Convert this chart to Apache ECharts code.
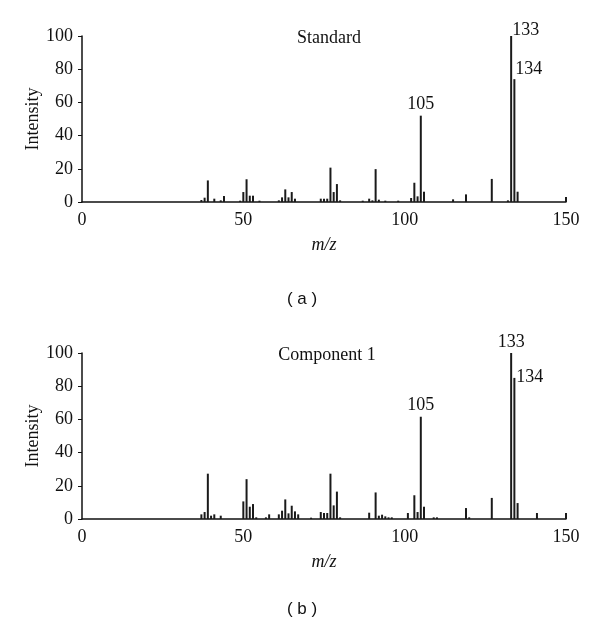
<!DOCTYPE html>
<html>
<head>
<meta charset="utf-8">
<script src="https://cdn.jsdelivr.net/npm/echarts@6/dist/echarts.min.js"></script>
<style>html,body{margin:0;padding:0;background:#fff}#c{width:600px;height:631px}</style>
</head>
<body>
<div id="c"></div>
<script>
// Standard spectrum (m/z, intensity)
var stdMz  = [37,38,39,41,43,44,49,50,51,52,53,55,61,62,63,64,65,66,74,75,76,77,78,79,80,87,89,90,91,92,94,98,102,103,104,105,106,115,119,127,132,133,134,135,150];
var stdInt = [1.2,2.6,13,2,1,3.6,0.8,6,13.7,3.8,3.8,0.8,1,2.8,7.6,2.8,6,2,2,2,2,20.7,6,10.8,1,0.8,2,1,19.8,1.4,0.8,0.8,2.4,11.6,3.4,52,6.2,1.6,4.6,13.9,1,100,74,6.2,3];
// Component 1 spectrum
var cmpMz  = [37,38,39,40,41,43,50,51,52,53,54,57,58,61,62,63,64,65,66,67,71,74,75,76,77,78,79,80,89,91,92,93,94,95,96,101,103,104,105,106,109,110,119,120,127,133,134,135,141,150];
var cmpInt = [2.8,4.2,27.3,2,2.8,2,10.6,24,7.4,9,1,1,2.8,2.8,5,11.8,3.4,8,4.6,2.8,0.8,4.2,3.6,3.6,27.3,8.2,16.5,1,3.8,16,2,2.6,1.6,1,1,3.6,14.3,4.2,61.6,7.4,1,1,6.6,1,12.7,100,85,9.6,3.6,3.6];
var xTicks = [0,50,100,150];
var yTicks = [0,20,40,60,80,100];
var titles = ['Standard','Component 1'];
var panelLabels = ['( a )','( b )'];

var serif = '"Liberation Serif", "DejaVu Serif", serif';
var labelStyles = {
  0: {105: {position:'top', distance:2}, 133: {position:[2,-15]}, 134: {position:[2,-19]}},
  1: {105: {position:'top', distance:2}, 133: {position:'top', distance:2}, 134: {position:[3,-10]}}
};
function build(mz, inten, idx){
  return mz.map(function(m,i){
    var item = {value:[m, inten[i]]};
    var ls = labelStyles[idx][m];
    if (ls) {
      item.label = Object.assign({show:true, formatter:String(m), color:'#111', fontFamily:serif, fontSize:18}, ls);
    }
    return item;
  });
}
var grids = [
  {left:82, width:484, top:36, height:166},
  {left:82, width:484, top:353, height:166}
];
var xAxes = [], yAxes = [], series = [];
[0,1].forEach(function(i){
  xAxes.push({
    type:'value', gridIndex:i, min:0, max:150, interval:50,
    name:'m/z', nameLocation:'middle', nameGap:34, nameMoveOverlap:false,
    nameTextStyle:{fontFamily:serif, fontStyle:'italic', fontSize:18, color:'#111'},
    axisLine:{show:true, lineStyle:{color:'#111', width:1.5}},
    axisTick:{show:false},
    splitLine:{show:false},
    axisLabel:{fontFamily:serif, fontSize:18, color:'#111', margin:9,
      formatter:function(v){ return xTicks.indexOf(v)>=0 ? String(v) : ''; }}
  });
  yAxes.push({
    type:'value', gridIndex:i, min:0, max:100, interval:20,
    name:'Intensity', nameLocation:'middle', nameGap:40, nameRotate:90, nameMoveOverlap:false,
    nameTextStyle:{fontFamily:serif, fontSize:18, color:'#111'},
    axisLine:{show:true, lineStyle:{color:'#111', width:1.5}},
    axisTick:{show:true, length:4, lineStyle:{color:'#111'}},
    splitLine:{show:false},
    axisLabel:{fontFamily:serif, fontSize:18, color:'#111', margin:9,
      formatter:function(v){ return yTicks.indexOf(v)>=0 ? String(v) : ''; }}
  });
  series.push({
    type:'bar', xAxisIndex:i, yAxisIndex:i, barWidth:2,
    itemStyle:{color:'#1a1a1a'},
    data: i===0 ? build(stdMz, stdInt, 0) : build(cmpMz, cmpInt, 1),
    animation:false
  });
});
var chart = echarts.init(document.getElementById('c'), null, {renderer:'canvas'});
chart.setOption({
  backgroundColor:'#fff',
  animation:false,
  title:[
    {text:titles[0], left:324, top:24, textAlign:'center', textStyle:{fontFamily:serif, fontSize:18, fontWeight:'normal', color:'#111'}},
    {text:titles[1], left:322, top:341, textAlign:'center', textStyle:{fontFamily:serif, fontSize:18, fontWeight:'normal', color:'#111'}},
    {text:panelLabels[0], left:297, top:286, textAlign:'center', textStyle:{fontFamily:'"Liberation Sans", Arial, sans-serif', fontSize:17, fontWeight:'normal', color:'#111'}},
    {text:panelLabels[1], left:297, top:596, textAlign:'center', textStyle:{fontFamily:'"Liberation Sans", Arial, sans-serif', fontSize:17, fontWeight:'normal', color:'#111'}}
  ],
  grid:grids,
  xAxis:xAxes,
  yAxis:yAxes,
  series:series
});
</script>
</body>
</html>
